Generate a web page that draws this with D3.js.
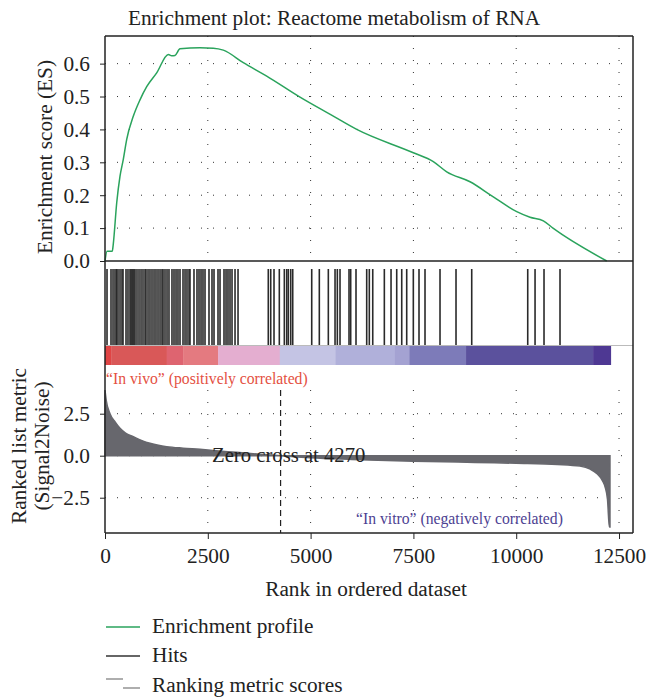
<!DOCTYPE html>
<html>
<head>
<meta charset="utf-8">
<script src="https://cdn.jsdelivr.net/npm/d3@7"></script>
<style>
  html, body { margin: 0; padding: 0; background: #fff; }
  svg text { font-family: "Liberation Serif", "DejaVu Serif", serif; }
</style>
</head>
<body>
<div id="chart"></div>
<script>
// ---------------- DATA ----------------
const chartTitle = "Enrichment plot: Reactome metabolism of RNA";

// Running enrichment score (rank, ES)
const esRank  = [0, 50, 178, 200, 285, 365, 445, 528, 688, 851, 1014, 1257, 1540, 1620, 1702, 1824, 2310, 2634, 2877, 3363, 3932, 4742, 5500, 6121, 7498, 7984, 8310, 8877, 9443, 10012, 10336, 10660, 10903, 12201];
const esValue = [0, 0.03, 0.03, 0.05, 0.177, 0.258, 0.309, 0.37, 0.44, 0.49, 0.53, 0.572, 0.628, 0.624, 0.625, 0.645, 0.648, 0.647, 0.641, 0.603, 0.562, 0.498, 0.444, 0.40, 0.329, 0.302, 0.271, 0.241, 0.195, 0.15, 0.133, 0.122, 0.099, 0.0];

// Gene set hit positions (rank)
const hitRanks = [49, 146, 195, 243, 280, 316, 365, 413, 438, 511, 559, 608, 632, 657, 681, 705, 730, 778, 827, 876, 924, 973, 997, 1046, 1094, 1143, 1192, 1240, 1289, 1338, 1386, 1411, 1459, 1508, 1556, 1629, 1678, 1727, 1775, 1824, 1897, 1946, 1994, 2043, 2067, 2164, 2237, 2286, 2335, 2383, 2432, 2529, 2602, 2651, 2748, 2797, 2894, 2943, 2991, 3040, 3089, 3162, 3235,
  3971, 4030, 4110, 4239, 4361, 4419, 4458, 4516, 4565, 5027, 5212, 5431, 5594, 5650, 5715, 5934, 5975, 6104, 6364, 6428, 6511, 6793, 6956, 7094, 7216, 7337, 7498, 7636, 7782, 8147, 8536, 8918, 10280, 10458, 10676, 11065];

// Ranked list metric (Signal2Noise)
const metricRank  = [0, 30, 122, 250, 365, 500, 688, 900, 1094, 1300, 1500, 1900, 2310, 2700, 3200, 3700, 4270, 5000, 6000, 7500, 9000, 10000, 11000, 11550, 11800, 11957, 12100, 12160, 12220, 12265, 12280];
const metricValue = [3.91, 3.3, 2.5, 2.0, 1.63, 1.35, 1.13, 0.9, 0.74, 0.62, 0.54, 0.45, 0.38, 0.3, 0.2, 0.1, 0, -0.12, -0.22, -0.33, -0.4, -0.45, -0.52, -0.62, -0.8, -1.05, -1.5, -1.85, -2.6, -4.25, -4.25];
const zeroCross = 4270;
const listSize = 12300;

// Colour bar segments (start rank, colour)
const barStart = [0, 150, 1500, 1900, 2750, 4250, 5600, 7050, 7400, 8780, 11870];
const barColor = ["#e04444", "#d95858", "#de6470", "#e47a80", "#e4aed0", "#c4c4e4", "#b0b0da", "#a4a2d2", "#7d7bb9", "#5b519d", "#4e3893"];

const xTicks = [0, 2500, 5000, 7500, 10000, 12500];
const esTicks = [0.0, 0.1, 0.2, 0.3, 0.4, 0.5, 0.6];
const metricTicks = [-2.5, 0.0, 2.5];

const legendLabels = ["Enrichment profile", "Hits", "Ranking metric scores"];

// ---------------- LAYOUT ----------------
const W = 646, H = 697;
const L = 105, R = 633;
const esTop = 36, esBot = 261;
const hitTop = 269, hitBot = 345;
const barTop = 346, barBot = 365;
const mTop = 390, mBot = 533;
const FS = 21.3, FSS = 15.7;

const svg = d3.select("#chart").append("svg").attr("width", W).attr("height", H);

const x = d3.scaleLinear().domain([0, 12840]).range([L, R]);
const yES = d3.scaleLinear().domain([0, 0.684]).range([esBot, esTop]);
const yM = d3.scaleLinear().domain([-4.6, 3.91]).range([mBot, mTop]);

const gridStyle = sel => sel.attr("stroke", "#333").attr("stroke-width", 1).attr("stroke-dasharray", "1,11");

// ---- Title
svg.append("text").attr("x", 334).attr("y", 25).attr("text-anchor", "middle")
  .attr("font-size", FS).attr("fill", "#222").text(chartTitle);

// ---- ES panel grid
svg.append("g").selectAll("line").data(xTicks.slice(1)).join("line")
  .attr("x1", d => x(d)).attr("x2", d => x(d)).attr("y1", esTop).attr("y2", esBot).call(gridStyle);
svg.append("g").selectAll("line").data(esTicks.slice(1)).join("line")
  .attr("x1", L).attr("x2", R).attr("y1", d => yES(d)).attr("y2", d => yES(d)).call(gridStyle);

// ES curve
const esData = esRank.map((r, i) => [r, esValue[i]]);
svg.append("path").datum(esData)
  .attr("fill", "none").attr("stroke", "#2aa35c").attr("stroke-width", 1.5)
  .attr("d", d3.line().x(d => x(d[0])).y(d => yES(d[1])).curve(d3.curveMonotoneX));

// ES y axis
const esAxis = svg.append("g").attr("transform", `translate(${L},0)`)
  .call(d3.axisLeft(yES).tickValues(esTicks).tickFormat(d3.format(".1f")).tickSize(5).tickPadding(10));
esAxis.select(".domain").remove();
esAxis.selectAll("text").attr("font-size", FS).attr("fill", "#222").attr("font-family", "Liberation Serif");
esAxis.selectAll("line").attr("stroke", "#222");

svg.append("text").attr("transform", `translate(52,157) rotate(-90)`)
  .attr("text-anchor", "middle").attr("font-size", FS).attr("fill", "#222").text("Enrichment score (ES)");

// ---- Hits
svg.append("g").selectAll("line").data(hitRanks).join("line")
  .attr("x1", d => x(d)).attr("x2", d => x(d)).attr("y1", hitTop).attr("y2", hitBot)
  .attr("stroke", "#2a2a2a").attr("stroke-width", 1.6);

svg.append("line").attr("x1", L).attr("x2", R).attr("y1", hitBot + 0.5).attr("y2", hitBot + 0.5)
  .attr("stroke", "#bbb").attr("stroke-width", 1);

// ---- Colour bar
const barEnds = barStart.slice(1).concat([listSize]);
svg.append("g").selectAll("rect").data(barStart).join("rect")
  .attr("x", d => x(d)).attr("width", (d, i) => x(barEnds[i]) - x(d) + 0.3)
  .attr("y", barTop).attr("height", barBot - barTop)
  .attr("fill", (d, i) => barColor[i]);

// ---- Metric panel grid
svg.append("g").selectAll("line").data(xTicks.slice(1)).join("line")
  .attr("x1", d => x(d)).attr("x2", d => x(d)).attr("y1", mTop).attr("y2", mBot).call(gridStyle);
svg.append("g").selectAll("line").data(metricTicks).join("line")
  .attr("x1", L).attr("x2", R).attr("y1", d => yM(d)).attr("y2", d => yM(d)).call(gridStyle);

// metric area
const mData = metricRank.map((r, i) => [r, metricValue[i]]);
svg.append("path").datum(mData)
  .attr("fill", "#67676d").attr("stroke", "#67676d").attr("stroke-width", 1.5)
  .attr("d", d3.area().x(d => x(d[0])).y0(yM(0)).y1(d => yM(d[1])).curve(d3.curveMonotoneX));

// zero cross dashed line
svg.append("line").attr("x1", x(zeroCross)).attr("x2", x(zeroCross)).attr("y1", mTop).attr("y2", mBot)
  .attr("stroke", "#222").attr("stroke-width", 1.2).attr("stroke-dasharray", "6,4");

svg.append("text").attr("x", 212).attr("y", 462).attr("font-size", 20.7).attr("fill", "#222")
  .text("Zero cross at " + zeroCross);

svg.append("text").attr("x", 106).attr("y", 384).attr("font-size", FSS).attr("fill", "#e4503f")
  .text("\u201cIn vivo\u201d (positively correlated)");
svg.append("text").attr("x", 356).attr("y", 524).attr("font-size", FSS).attr("fill", "#4d3f92")
  .text("\u201cIn vitro\u201d (negatively correlated)");

// metric y axis
const mAxis = svg.append("g").attr("transform", `translate(${L},0)`)
  .call(d3.axisLeft(yM).tickValues(metricTicks).tickFormat(d => d3.format(".1f")(d).replace("-", "\u2212")).tickSize(5).tickPadding(10));
mAxis.select(".domain").remove();
mAxis.selectAll("text").attr("font-size", FS).attr("fill", "#222").attr("font-family", "Liberation Serif");
mAxis.selectAll("line").attr("stroke", "#222");

svg.append("text").attr("transform", `translate(26,446) rotate(-90)`)
  .attr("text-anchor", "middle").attr("font-size", FS).attr("fill", "#222").text("Ranked list metric");
svg.append("text").attr("transform", `translate(49,446) rotate(-90)`)
  .attr("text-anchor", "middle").attr("font-size", FS).attr("fill", "#222").text("(Signal2Noise)");

// x axis
const xAxis = svg.append("g").attr("transform", `translate(0,${mBot})`)
  .call(d3.axisBottom(x).tickValues(xTicks).tickFormat(d3.format("d")).tickSize(6).tickPadding(9));
xAxis.select(".domain").remove();
xAxis.selectAll("text").attr("font-size", FS).attr("fill", "#222").attr("font-family", "Liberation Serif");
xAxis.selectAll("line").attr("stroke", "#222");

svg.append("text").attr("x", 366).attr("y", 596).attr("text-anchor", "middle")
  .attr("font-size", FS).attr("fill", "#222").text("Rank in ordered dataset");

// ---- Frame
const frame = svg.append("g").attr("stroke", "#222").attr("stroke-width", 1.5).attr("fill", "none");
frame.append("line").attr("x1", L).attr("x2", L).attr("y1", esTop).attr("y2", mBot);
frame.append("line").attr("x1", R).attr("x2", R).attr("y1", esTop).attr("y2", mBot);
frame.append("line").attr("x1", L).attr("x2", R).attr("y1", esTop).attr("y2", esTop);
frame.append("line").attr("x1", L).attr("x2", R).attr("y1", esBot).attr("y2", esBot);
frame.append("line").attr("x1", L).attr("x2", R).attr("y1", mBot).attr("y2", mBot);

// ---- Legend
const lg = svg.append("g");
const legY = [627, 656, 686];
lg.append("line").attr("x1", 106).attr("x2", 140).attr("y1", legY[0]).attr("y2", legY[0]).attr("stroke", "#2aa35c").attr("stroke-width", 1.3);
lg.append("line").attr("x1", 106).attr("x2", 140).attr("y1", legY[1]).attr("y2", legY[1]).attr("stroke", "#333").attr("stroke-width", 1.5);
lg.append("line").attr("x1", 106).attr("x2", 123).attr("y1", legY[2] - 7).attr("y2", legY[2] - 7).attr("stroke", "#777").attr("stroke-width", 1.2);
lg.append("line").attr("x1", 123).attr("x2", 140).attr("y1", legY[2] + 2).attr("y2", legY[2] + 2).attr("stroke", "#777").attr("stroke-width", 1.2);
lg.selectAll("text").data(legendLabels).join("text")
  .attr("x", 152).attr("y", (d, i) => legY[i] + 6).attr("font-size", FS).attr("fill", "#222").text(d => d);
</script>
</body>
</html>
